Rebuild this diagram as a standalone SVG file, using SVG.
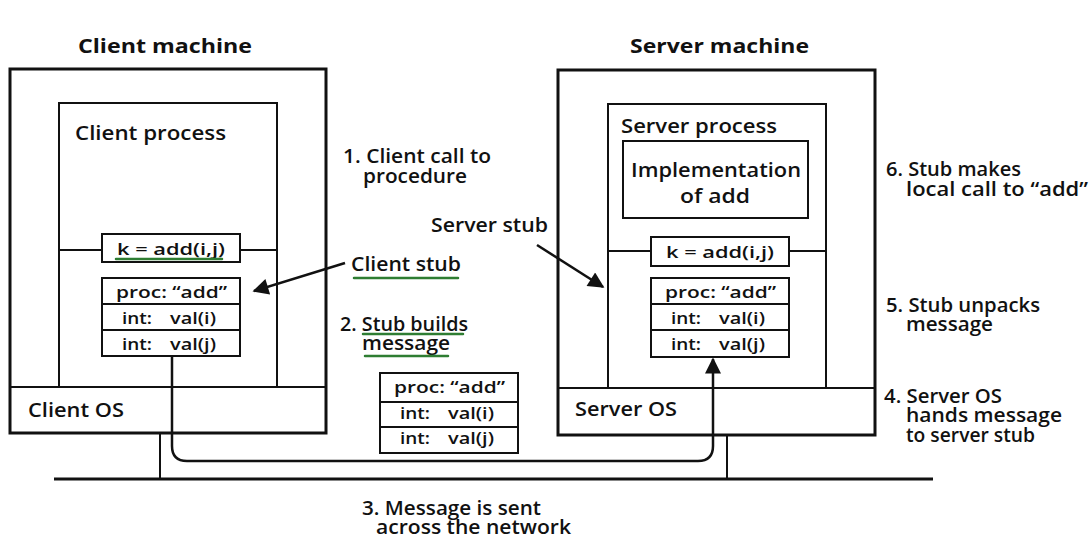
<svg xmlns="http://www.w3.org/2000/svg" width="1090" height="544" viewBox="0 0 1090 544">
<defs>
<style>
.t{font-family:"Open Sans","DejaVu Sans",sans-serif;font-weight:600;fill:#111}
.h{font-size:20px;font-weight:700}
.l{font-size:19px}
.s{font-size:16px}
.thick{fill:#fff;stroke:#111;stroke-width:3}
.thin{fill:#fff;stroke:#111;stroke-width:2}
.ln{fill:none;stroke:#111;stroke-width:2}
.ul{fill:none;stroke:#2e7d32;stroke-width:2.5;stroke-linecap:round}
</style>
<marker id="ahb" viewBox="0 0 10 10" refX="9" refY="5" markerWidth="18" markerHeight="16" orient="auto" markerUnits="userSpaceOnUse">
<path d="M0,0 L10,5 L0,10 z" fill="#111"/>
</marker>
</defs>
<rect width="1090" height="544" fill="#fff"/>

<g id="client-machine">
<text class="t h" x="78" y="53" textLength="174" lengthAdjust="spacingAndGlyphs">Client machine</text>
<rect class="thick" x="10" y="69" width="316" height="364"/>
<rect class="thin" x="59" y="103" width="218" height="284"/>
<line class="ln" x1="59" y1="250" x2="277" y2="250"/>
<line class="ln" x1="10" y1="387" x2="326" y2="387"/>
<text class="t l" x="75" y="140" textLength="151" lengthAdjust="spacingAndGlyphs">Client process</text>
<text class="t l" x="28" y="417" textLength="96" lengthAdjust="spacingAndGlyphs">Client OS</text>
</g>

<g id="client-call">
<rect class="thin" x="102" y="234" width="138" height="28"/>
<text class="t s" x="117" y="255" textLength="108" lengthAdjust="spacingAndGlyphs">k = add(i,j)</text>
<line class="ul" x1="116" y1="259" x2="222" y2="259"/>
</g>

<g id="client-msg">
<rect class="thin" x="102" y="278" width="138" height="78"/>
<line class="ln" x1="102" y1="304" x2="240" y2="304"/>
<line class="ln" x1="102" y1="330" x2="240" y2="330"/>
<text class="t s" x="116" y="298" textLength="111" lengthAdjust="spacingAndGlyphs">proc: “add”</text>
<text class="t s" x="122" y="324" textLength="30" lengthAdjust="spacingAndGlyphs">int:</text><text class="t s" x="170" y="324" textLength="46" lengthAdjust="spacingAndGlyphs">val(i)</text>
<text class="t s" x="122" y="350" textLength="30" lengthAdjust="spacingAndGlyphs">int:</text><text class="t s" x="170" y="350" textLength="46" lengthAdjust="spacingAndGlyphs">val(j)</text>
</g>

<g id="server-machine">
<text class="t h" x="630" y="53" textLength="179" lengthAdjust="spacingAndGlyphs">Server machine</text>
<rect class="thick" x="558" y="70" width="317" height="365"/>
<rect class="thin" x="608" y="104" width="218" height="284"/>
<line class="ln" x1="608" y1="251" x2="826" y2="251"/>
<line class="ln" x1="558" y1="388" x2="875" y2="388"/>
<text class="t l" x="621" y="133" textLength="156" lengthAdjust="spacingAndGlyphs">Server process</text>
<text class="t l" x="575" y="416" textLength="102" lengthAdjust="spacingAndGlyphs">Server OS</text>
</g>

<g id="implementation">
<rect class="thin" x="623" y="141" width="185" height="77"/>
<text class="t l" font-size="20"><tspan x="631" y="177" textLength="170" lengthAdjust="spacingAndGlyphs">Implementation</tspan><tspan x="680" y="203" textLength="70" lengthAdjust="spacingAndGlyphs">of add</tspan></text>
</g>

<g id="server-call">
<rect class="thin" x="651" y="237" width="138" height="29"/>
<text class="t s" x="666" y="258" textLength="108" lengthAdjust="spacingAndGlyphs">k = add(i,j)</text>
</g>

<g id="server-msg">
<rect class="thin" x="651" y="278" width="138" height="79"/>
<line class="ln" x1="651" y1="304" x2="789" y2="304"/>
<line class="ln" x1="651" y1="330" x2="789" y2="330"/>
<text class="t s" x="665" y="298" textLength="111" lengthAdjust="spacingAndGlyphs">proc: “add”</text>
<text class="t s" x="671" y="324" textLength="30" lengthAdjust="spacingAndGlyphs">int:</text><text class="t s" x="719" y="324" textLength="46" lengthAdjust="spacingAndGlyphs">val(i)</text>
<text class="t s" x="671" y="350" textLength="30" lengthAdjust="spacingAndGlyphs">int:</text><text class="t s" x="719" y="350" textLength="46" lengthAdjust="spacingAndGlyphs">val(j)</text>
</g>

<g id="network-msg">
<rect class="thin" x="380" y="373" width="138" height="80"/>
<line class="ln" x1="380" y1="402" x2="518" y2="402"/>
<line class="ln" x1="380" y1="427" x2="518" y2="427"/>
<text class="t s" x="394" y="393" textLength="111" lengthAdjust="spacingAndGlyphs">proc: “add”</text>
<text class="t s" x="400" y="419" textLength="30" lengthAdjust="spacingAndGlyphs">int:</text><text class="t s" x="448" y="419" textLength="46" lengthAdjust="spacingAndGlyphs">val(i)</text>
<text class="t s" x="400" y="444" textLength="30" lengthAdjust="spacingAndGlyphs">int:</text><text class="t s" x="448" y="444" textLength="46" lengthAdjust="spacingAndGlyphs">val(j)</text>
</g>

<g id="network">
<line x1="54" y1="479" x2="933" y2="479" stroke="#111" stroke-width="3"/>
<line class="ln" x1="160" y1="433" x2="160" y2="479"/>
<line class="ln" x1="727" y1="435" x2="727" y2="479"/>
</g>

<g id="labels">
<text class="t l"><tspan x="343" y="163" textLength="148" lengthAdjust="spacingAndGlyphs">1. Client call to</tspan><tspan x="363" y="183" textLength="104" lengthAdjust="spacingAndGlyphs">procedure</tspan></text>
<text class="t l" x="431" y="232" textLength="117" lengthAdjust="spacingAndGlyphs">Server stub</text>
<text class="t l" x="351" y="271" textLength="110" lengthAdjust="spacingAndGlyphs">Client stub</text>
<line class="ul" x1="354" y1="278" x2="458" y2="278"/>
<text class="t l"><tspan x="340" y="331" textLength="128" lengthAdjust="spacingAndGlyphs">2. Stub builds</tspan><tspan x="362" y="350" textLength="88" lengthAdjust="spacingAndGlyphs">message</tspan></text>
<line class="ul" x1="363" y1="334" x2="463" y2="334"/>
<line class="ul" x1="365" y1="356" x2="448" y2="356"/>
<text class="t l"><tspan x="362" y="515" textLength="179" lengthAdjust="spacingAndGlyphs">3. Message is sent</tspan><tspan x="376" y="534" textLength="195" lengthAdjust="spacingAndGlyphs">across the network</tspan></text>
<text class="t l"><tspan x="886" y="176" textLength="135" lengthAdjust="spacingAndGlyphs">6. Stub makes</tspan><tspan x="906" y="196" textLength="182" lengthAdjust="spacingAndGlyphs">local call to “add”</tspan></text>
<text class="t l"><tspan x="886" y="312" textLength="154" lengthAdjust="spacingAndGlyphs">5. Stub unpacks</tspan><tspan x="906" y="331" textLength="87" lengthAdjust="spacingAndGlyphs">message</tspan></text>
<text class="t l"><tspan x="884" y="403" textLength="118" lengthAdjust="spacingAndGlyphs">4. Server OS</tspan><tspan x="906" y="422" textLength="156" lengthAdjust="spacingAndGlyphs">hands message</tspan><tspan x="906" y="442" textLength="129" lengthAdjust="spacingAndGlyphs">to server stub</tspan></text>
</g>

<g id="connectors">
<line x1="345" y1="263" x2="254" y2="291" stroke="#111" stroke-width="2.5" marker-end="url(#ahb)"/>
<line x1="537" y1="245" x2="603" y2="287" stroke="#111" stroke-width="2.5" marker-end="url(#ahb)"/>
<path d="M172,356 L172,446 Q172,461 187,461 L698,461 Q713,461 713,446 L713,359" fill="none" stroke="#111" stroke-width="2.5" marker-end="url(#ahb)"/>
</g>
</svg>
